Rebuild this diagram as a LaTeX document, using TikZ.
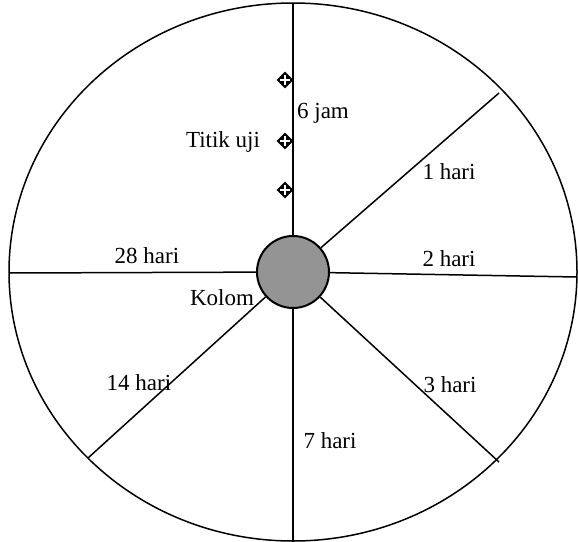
\documentclass[tikz,border=0pt]{standalone}
\usepackage{fontspec}
\setmainfont{Liberation Serif}
\usetikzlibrary{shapes.geometric}
\begin{document}
\begin{tikzpicture}[x=1pt,y=-1pt,
                kolom/.style={
                    draw=black,
                    fill=black!42,
                    circle,
                    line width=2pt,
                    minimum size=72pt,
                    inner sep=0pt
                },
                titik/.style={
                    diamond,
                    fill=black,
                    minimum size=17pt,
                    inner sep=0pt,
                    path picture={
                        \draw[white,line width=1.4pt]
                            ([xshift=3.5pt]path picture bounding box.west) -- ([xshift=-3.5pt]path picture bounding box.east)
                            ([yshift=-3.5pt]path picture bounding box.north) -- ([yshift=3.5pt]path picture bounding box.south);
                    }
                },
                teks/.style={
                    inner sep=0pt,
                    font=\fontsize{23}{26}\selectfont
                },
                garis/.style={
                    line width=1.5pt
                }
            ]
                \useasboundingbox (0,0) rectangle (578,541);

                % lingkaran luar dan kolom
                \draw[garis] (293,272) ellipse [x radius=284, y radius=269];
                \node[kolom] (col) at (293,272) {};

                % ujung garis pada tepi
                \coordinate (rimN) at (293,3);
                \coordinate (rimNE) at (499,93);
                \coordinate (rimE) at (577,277);
                \coordinate (rimSE) at (499,462);
                \coordinate (rimS) at (293,541);
                \coordinate (rimSW) at (88,458);
                \coordinate (rimW) at (9,273);

                \draw[garis] (col) -- (rimN);
                \draw[garis] (col) -- (rimNE);
                \draw[garis] (col) -- (rimE);
                \draw[garis] (col) -- (rimSE);
                \draw[garis] (col) -- (rimS);
                \draw[garis] (col) -- (rimSW);
                \draw[garis] (col) -- (rimW);

                % titik uji
                \node[titik] (uji1) at (285,80) {};
                \node[titik] (uji2) at (285,141) {};
                \node[titik] (uji3) at (285,190) {};

                % keterangan
                \node[teks] (t6jam) at (323,113) {6 jam};
                \node[teks] (tuji) at (223,142) {Titik uji};
                \node[teks] (t1) at (449,172) {1 hari};
                \node[teks] (t2) at (449,259) {2 hari};
                \node[teks] (t28) at (147,256) {28 hari};
                \node[teks] (tkolom) at (222,298) {Kolom};
                \node[teks] (t14) at (139,383) {14 hari};
                \node[teks] (t3) at (450,385) {3 hari};
                \node[teks] (t7) at (330,441) {7 hari};
\end{tikzpicture}
\end{document}
